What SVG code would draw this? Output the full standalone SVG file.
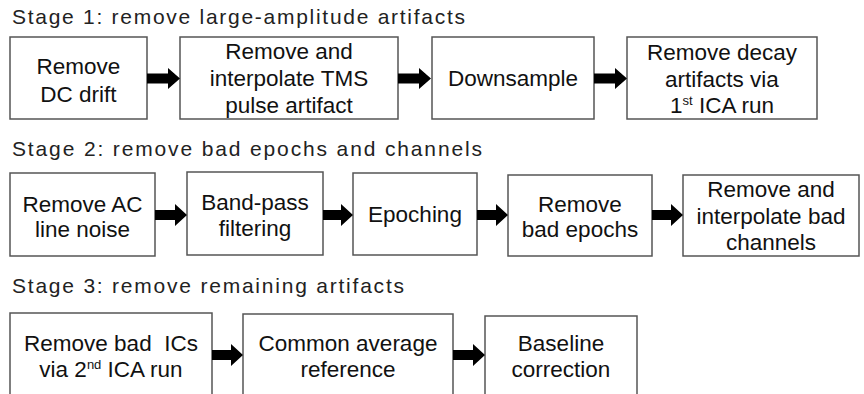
<svg xmlns="http://www.w3.org/2000/svg" width="864" height="394" viewBox="0 0 864 394">
<style>
.box{fill:#fff;stroke:#555;stroke-width:1.5}
.t{font-family:"Liberation Sans",Arial,sans-serif;font-size:22.5px;fill:#111;text-anchor:middle}
.h{font-family:"Liberation Sans",Arial,sans-serif;font-size:21px;fill:#222}
.arr{fill:#000;stroke:none}
.sup{font-size:13px}
</style>
<rect width="864" height="394" fill="#fff"/>
<text class="h" x="12" y="24" textLength="453" lengthAdjust="spacing">Stage 1: remove large-amplitude artifacts</text>
<text class="h" x="12" y="156" textLength="470" lengthAdjust="spacing">Stage 2: remove bad epochs and channels</text>
<text class="h" x="12" y="293" textLength="392" lengthAdjust="spacing">Stage 3: remove remaining artifacts</text>

<g id="n1"><rect class="box" x="10" y="37" width="137" height="82"/><text class="t" x="78.5" y="74">Remove</text><text class="t" x="78.5" y="102">DC drift</text></g>
<g id="n2"><rect class="box" x="180" y="37" width="218" height="82"/><text class="t" x="289" y="59">Remove and</text><text class="t" x="289" y="86">interpolate TMS</text><text class="t" x="289" y="113">pulse artifact</text></g>
<g id="n3"><rect class="box" x="432" y="37" width="162" height="82"/><text class="t" x="513" y="86">Downsample</text></g>
<g id="n4"><rect class="box" x="627" y="37" width="190" height="82"/><text class="t" x="722" y="60">Remove decay</text><text class="t" x="722" y="87">artifacts via</text><text class="t" x="722" y="113">1<tspan class="sup" dy="-8">st</tspan><tspan dy="8"> ICA run</tspan></text></g>

<g id="n5"><rect class="box" x="10" y="173" width="145" height="83"/><text class="t" x="82.5" y="212">Remove AC</text><text class="t" x="82.5" y="237">line noise</text></g>
<g id="n6"><rect class="box" x="187" y="172" width="136" height="83"/><text class="t" x="255" y="210">Band-pass</text><text class="t" x="255" y="236">filtering</text></g>
<g id="n7"><rect class="box" x="353" y="173" width="124" height="82"/><text class="t" x="415" y="222">Epoching</text></g>
<g id="n8"><rect class="box" x="508" y="175" width="144" height="81"/><text class="t" x="580" y="212">Remove</text><text class="t" x="580" y="237">bad epochs</text></g>
<g id="n9"><rect class="box" x="683" y="175" width="176" height="81"/><text class="t" x="771" y="197">Remove and</text><text class="t" x="771" y="224">interpolate bad</text><text class="t" x="771" y="250">channels</text></g>

<g id="n10"><rect class="box" x="10" y="313" width="202" height="90"/><text class="t" x="111" y="351" xml:space="preserve">Remove bad  ICs</text><text class="t" x="111" y="377">via 2<tspan class="sup" dy="-8">nd</tspan><tspan dy="8"> ICA run</tspan></text></g>
<g id="n11"><rect class="box" x="243" y="314" width="210" height="90"/><text class="t" x="348" y="351">Common average</text><text class="t" x="348" y="377">reference</text></g>
<g id="n12"><rect class="box" x="485" y="316" width="152" height="90"/><text class="t" x="561" y="351">Baseline</text><text class="t" x="561" y="377">correction</text></g>

<g id="connectors">
<path class="arr" d="M147 73.5H168V68L180 78.5L168 89V83.5H147Z"/>
<path class="arr" d="M398 73.5H419V68L431 78.5L419 89V83.5H398Z"/>
<path class="arr" d="M594 73.5H615V68L627 78.5L615 89V83.5H594Z"/>
<path class="arr" d="M155 210H175V204L187 215L175 226V220H155Z"/>
<path class="arr" d="M323 210H341V204L353 215L341 226V220H323Z"/>
<path class="arr" d="M477 210H496V204L508 215L496 226V220H477Z"/>
<path class="arr" d="M652 210H671V204L683 215L671 226V220H652Z"/>
<path class="arr" d="M212 350H231V344L243 355L231 366V360H212Z"/>
<path class="arr" d="M453 350H473V344L485 355L473 366V360H453Z"/>
</g>
</svg>
